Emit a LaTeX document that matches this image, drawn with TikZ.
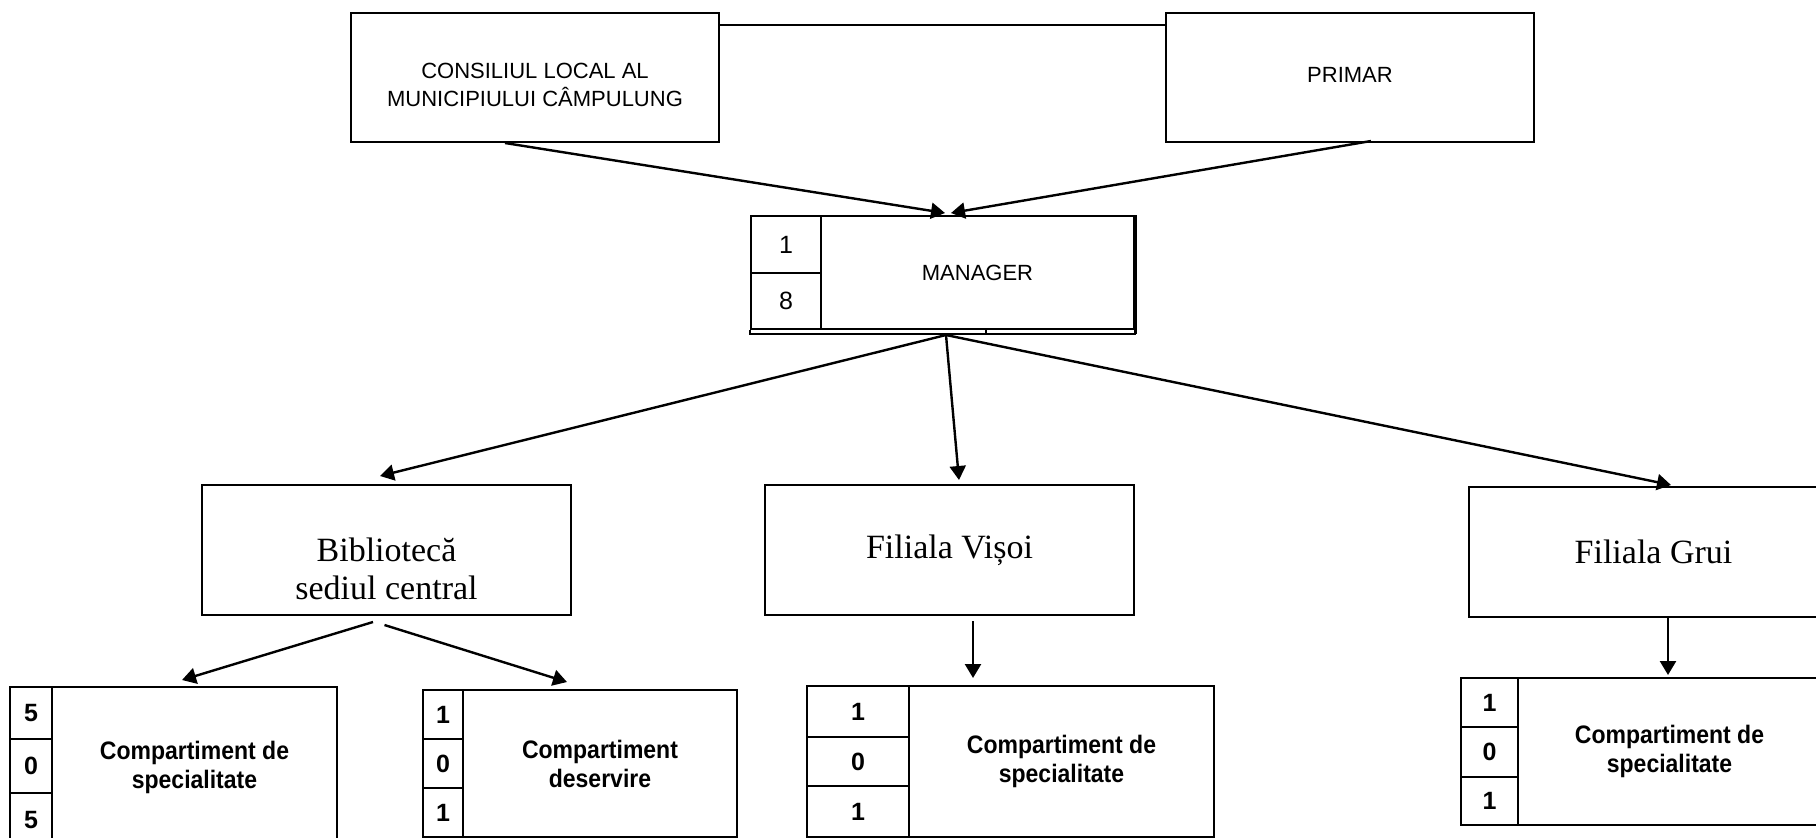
\documentclass[tikz,border=0pt]{standalone}
\usepackage{fontspec}
\setmainfont{Liberation Serif}
\setsansfont{Liberation Sans}
\usetikzlibrary{arrows.meta, positioning}

\tikzset{
	box/.style={draw, line width=1pt, inner sep=0pt, align=center},
	topbox/.style={box, anchor=north west, minimum width=184pt, minimum height=64.5pt, font=\sffamily\fontsize{11}{14}\selectfont},
	unitbox/.style={box, anchor=north west, minimum width=184.5pt, minimum height=65pt, font=\fontsize{17}{19}\selectfont},
	numcell/.style={box, anchor=north west, font=\sffamily\bfseries\fontsize{12.5}{14}\selectfont},
	compbox/.style={box, anchor=north west, font=\sffamily\bfseries\fontsize{11.5}{14.5}\selectfont},
	arr/.style={-{Triangle[length=7pt,width=8pt]}, line width=1.2pt},
}

\begin{document}
\begin{tikzpicture}[x=0.5pt,y=-0.5pt]
	
	\path[fill=white,use as bounding box] (0,0) rectangle (1816,837);
	
	% top level
	\node (cons) [topbox] at (350,12) {\raisebox{-14.5pt}[0pt][0pt]{\begin{tabular}[b]{@{}c@{}}CONSILIUL LOCAL AL\\MUNICIPIULUI CÂMPULUNG\end{tabular}}};
	\node (prim) [topbox] at (1165,12) {\raisebox{3pt}{PRIMAR}};
	
	% manager
	\node (mgr) [box, anchor=north west, minimum width=156.5pt, minimum height=56.5pt, font=\sffamily\fontsize{11}{13}\selectfont] at (820,215) {MANAGER};
	\node (m1) [box, anchor=north west, minimum width=35pt, minimum height=28.5pt, font=\sffamily\fontsize{12.5}{14}\selectfont] at (750,215) {1};
	\node (m8) [box, anchor=north west, minimum width=35pt, minimum height=28pt, font=\sffamily\fontsize{12.5}{14}\selectfont] at (750,272) {8};
	
	% units
	\node (bib) [unitbox] at (201,484) {\raisebox{-24.5pt}[0pt][0pt]{\begin{tabular}[b]{@{}c@{}}Bibliotecă\\sediul central\end{tabular}}};
	\node (vis) [unitbox] at (764,484) {Filiala Vișoi};
	\node (grui) [unitbox] at (1468,486) {Filiala Grui};
	
	% compartments
	\node (sp1) [compbox, minimum width=142.5pt, minimum height=80pt] at (51,686) {\scalebox{1}[1.1]{Compartiment de}\\\scalebox{1}[1.1]{specialitate}};
	\node (sp1a) [numcell, minimum width=21pt, minimum height=26pt] at (9,686) {5};
	\node (sp1b) [numcell, minimum width=21pt, minimum height=27pt] at (9,738) {0};
	\node (sp1c) [numcell, minimum width=21pt, minimum height=27pt] at (9,792) {5};
	
	\node (des) [compbox, minimum width=137pt, minimum height=73.5pt] at (462,689) {\scalebox{1}[1.1]{Compartiment}\\\scalebox{1}[1.1]{deservire}};
	\node (desa) [numcell, minimum width=20pt, minimum height=24.5pt] at (422,689) {1};
	\node (desb) [numcell, minimum width=20pt, minimum height=24.5pt] at (422,738) {0};
	\node (desc) [numcell, minimum width=20pt, minimum height=24.5pt] at (422,787) {1};
	
	\node (sp2) [compbox, minimum width=152.5pt, minimum height=75.5pt] at (908,685) {\scalebox{1}[1.1]{Compartiment de}\\\scalebox{1}[1.1]{specialitate}};
	\node (sp2a) [numcell, minimum width=51pt, minimum height=25.5pt] at (806,685) {1};
	\node (sp2b) [numcell, minimum width=51pt, minimum height=24.5pt] at (806,736) {0};
	\node (sp2c) [numcell, minimum width=51pt, minimum height=25.5pt] at (806,785) {1};
	
	\node (sp3) [compbox, minimum width=151.5pt, minimum height=73.5pt] at (1517,677) {\scalebox{1}[1.1]{Compartiment de}\\\scalebox{1}[1.1]{specialitate}};
	\node (sp3a) [numcell, minimum width=28.5pt, minimum height=24.5pt] at (1460,677) {1};
	\node (sp3b) [numcell, minimum width=28.5pt, minimum height=25pt] at (1460,726) {0};
	\node (sp3c) [numcell, minimum width=28.5pt, minimum height=24pt] at (1460,776) {1};
	
	% manager box bottom edge
	\draw [line width=0.8pt] (m8.south west) -- ([yshift=-2pt]m8.south west) -- ([yshift=-2pt]mgr.south east) -- (mgr.south east);
	\draw [line width=0.8pt] ([xshift=4.25pt]mgr.south) -- ([xshift=4.25pt,yshift=-2pt]mgr.south);
	\draw [line width=1.6pt] ([xshift=0.4pt]mgr.north east) -- ([xshift=0.4pt,yshift=-2pt]mgr.south east);
	
	\draw [line width=1pt] ([yshift=-6.5pt]cons.north east) -- ([yshift=-6.5pt]prim.north west);
	
	\draw [arr] ([xshift=-15pt]cons.south) -- ([xshift=-16.25pt,yshift=1pt]mgr.north);
	\draw [arr] ([xshift=10.5pt,yshift=1pt]prim.south) -- ([xshift=-13.25pt,yshift=1pt]mgr.north);
	
	\coordinate (mgrout) at ([xshift=-15.75pt,yshift=-2.5pt]mgr.south);
	\draw [arr] (mgrout) -- ([xshift=-3.25pt,yshift=4pt]bib.north);
	\draw [arr] (mgrout) -- ([xshift=4.75pt,yshift=2pt]vis.north);
	\draw [arr] (mgrout) -- ([xshift=8.75pt,yshift=0.5pt]grui.north);
	
	\draw [arr] ([xshift=-6.75pt,yshift=-3pt]bib.south) -- ([xshift=-6.25pt,yshift=3pt]sp1.north);
	\draw [arr] ([xshift=-1pt,yshift=-4.5pt]bib.south) -- ([xshift=-16.5pt,yshift=3.5pt]des.north);
	\draw [arr] ([xshift=11.75pt,yshift=-2.5pt]vis.south) -- ([xshift=-44.25pt,yshift=3.5pt]sp2.north);
	\draw [arr] ([xshift=7.25pt]grui.south) -- ([xshift=-0.75pt,yshift=1pt]sp3.north);
	
\end{tikzpicture}
\end{document}
